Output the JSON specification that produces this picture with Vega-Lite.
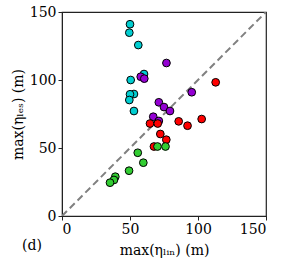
{
  "$schema": "https://vega.github.io/schema/vega-lite/v6.json",
  "width": 204,
  "height": 204,
  "autosize": "none",
  "padding": {"left": 62, "top": 12, "right": 21, "bottom": 49},
  "config": {
    "font": "DejaVu Serif",
    "view": {"stroke": "#222222", "strokeWidth": 1.2},
    "axis": {
      "grid": false,
      "domainColor": "#222222",
      "tickColor": "#222222",
      "labelColor": "#000000",
      "titleColor": "#000000",
      "labelFont": "DejaVu Serif",
      "titleFont": "DejaVu Serif",
      "labelFontSize": 14,
      "titleFontSize": 14,
      "titleFontWeight": "normal",
      "tickSize": 4,
      "labelPadding": 2
    }
  },
  "title": {
    "text": "(d)",
    "orient": "bottom",
    "anchor": "start",
    "frame": "group",
    "font": "DejaVu Serif",
    "fontSize": 14,
    "fontWeight": "normal",
    "color": "#000000",
    "dx": -40,
    "offset": -18
  },
  "layer": [
    {
      "data": {"values": [{"x": 0, "y": 0}, {"x": 150, "y": 150}]},
      "mark": {"type": "line", "color": "#808080", "strokeWidth": 2, "strokeDash": [7, 4], "clip": true},
      "encoding": {
        "x": {"field": "x", "type": "quantitative"},
        "y": {"field": "y", "type": "quantitative"}
      }
    },
    {
      "data": {
        "values": [
          {"lin": 50.0, "les": 141.0, "group": "A"},
          {"lin": 49.5, "les": 134.8, "group": "A"},
          {"lin": 56.1, "les": 125.7, "group": "A"},
          {"lin": 60.3, "les": 104.4, "group": "A"},
          {"lin": 50.5, "les": 100.0, "group": "A"},
          {"lin": 52.9, "les": 89.7, "group": "A"},
          {"lin": 50.0, "les": 89.5, "group": "A"},
          {"lin": 49.5, "les": 85.3, "group": "A"},
          {"lin": 52.9, "les": 77.2, "group": "A"},
          {"lin": 76.8, "les": 112.5, "group": "B"},
          {"lin": 57.9, "les": 102.4, "group": "B"},
          {"lin": 60.5, "les": 101.0, "group": "B"},
          {"lin": 71.2, "les": 83.6, "group": "B"},
          {"lin": 75.0, "les": 80.1, "group": "B"},
          {"lin": 79.4, "les": 77.2, "group": "B"},
          {"lin": 95.4, "les": 91.0, "group": "B"},
          {"lin": 67.1, "les": 73.0, "group": "B"},
          {"lin": 71.2, "les": 69.9, "group": "B"},
          {"lin": 113.0, "les": 98.3, "group": "C"},
          {"lin": 64.7, "les": 68.0, "group": "C"},
          {"lin": 70.4, "les": 68.0, "group": "C"},
          {"lin": 85.8, "les": 69.6, "group": "C"},
          {"lin": 92.3, "les": 66.4, "group": "C"},
          {"lin": 102.7, "les": 71.3, "group": "C"},
          {"lin": 72.3, "les": 60.3, "group": "C"},
          {"lin": 76.7, "les": 56.1, "group": "C"},
          {"lin": 67.6, "les": 51.1, "group": "C"},
          {"lin": 70.2, "les": 51.1, "group": "D"},
          {"lin": 76.1, "les": 51.1, "group": "D"},
          {"lin": 55.7, "les": 46.5, "group": "D"},
          {"lin": 59.8, "les": 39.2, "group": "D"},
          {"lin": 49.3, "les": 33.3, "group": "D"},
          {"lin": 39.2, "les": 28.9, "group": "D"},
          {"lin": 38.2, "les": 26.5, "group": "D"},
          {"lin": 35.3, "les": 24.5, "group": "D"}
        ]
      },
      "mark": {"type": "point", "filled": true, "shape": "circle", "size": 60, "stroke": "#000000", "strokeWidth": 1, "opacity": 1},
      "encoding": {
        "x": {
          "field": "lin",
          "type": "quantitative",
          "scale": {"domain": [0, 150], "nice": false},
          "axis": {"values": [0, 50, 100, 150], "title": "max(ηₗᵢₙ) (m)", "titlePadding": 7}
        },
        "y": {
          "field": "les",
          "type": "quantitative",
          "scale": {"domain": [0, 150], "nice": false},
          "axis": {"values": [0, 25, 50, 75, 100, 125, 150], "title": "max(ηₗₑₛ) (m)", "titlePadding": 4}
        },
        "fill": {
          "field": "group",
          "type": "nominal",
          "scale": {"domain": ["A", "B", "C", "D"], "range": ["#00CED1", "#9400D3", "#FF0000", "#32CD32"]},
          "legend": null
        }
      }
    }
  ]
}
